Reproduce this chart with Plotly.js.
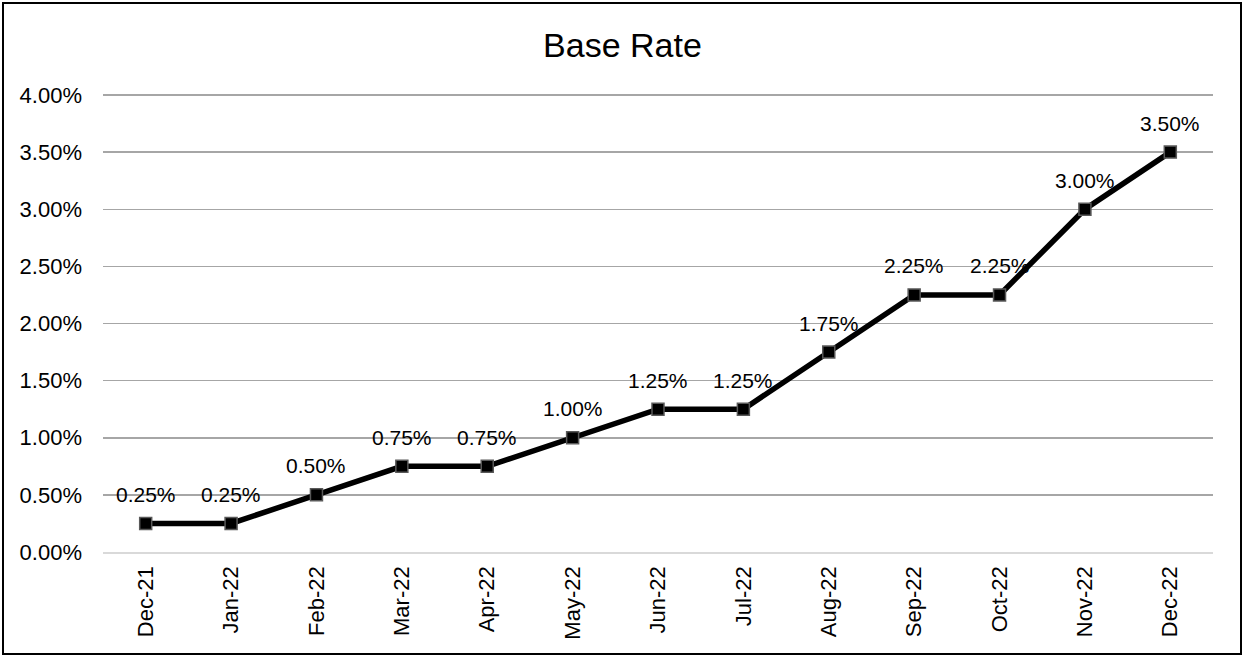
<!DOCTYPE html>
<html>
<head>
<meta charset="utf-8">
<script src="https://cdn.plot.ly/plotly-3.0.1.min.js"></script>
<style>
html,body{margin:0;padding:0;background:#fff;}
#chart{width:1245px;height:658px;position:absolute;left:0;top:0;}
#frame{position:absolute;left:2px;top:2px;width:1236px;height:649px;border:2px solid #000;pointer-events:none;}
</style>
</head>
<body>
<div id="chart"></div>
<div id="frame"></div>
<script>
const categories = ["Dec-21","Jan-22","Feb-22","Mar-22","Apr-22","May-22","Jun-22","Jul-22","Aug-22","Sep-22","Oct-22","Nov-22","Dec-22"];
const baseRate = [0.25,0.25,0.50,0.75,0.75,1.00,1.25,1.25,1.75,2.25,2.25,3.00,3.50];
const yTicks = [0,0.5,1,1.5,2,2.5,3,3.5,4];
const yTickLabels = ["0.00%","0.50%","1.00%","1.50%","2.00%","2.50%","3.00%","3.50%","4.00%"];

const font = "Liberation Sans, Arial, sans-serif";

const trace = {
  x: categories,
  y: baseRate,
  type: "scatter",
  mode: "lines+markers",
  line: {color: "#000000", width: 5.5},
  marker: {symbol: "square", size: 12, color: "#000000", line: {color: "#595959", width: 1.5}},
  hoverinfo: "none",
  cliponaxis: false
};

const annotations = categories.map((c, i) => ({
  x: c, y: baseRate[i], xref: "x", yref: "y",
  text: baseRate[i].toFixed(2) + "%",
  showarrow: false, yshift: 29, yanchor: "middle", xanchor: "center",
  font: {family: font, size: 21, color: "#000"}
}));

const layout = {
  width: 1245, height: 658,
  margin: {l: 103, r: 32, t: 91, b: 106, pad: 0},
  paper_bgcolor: "#fff", plot_bgcolor: "#fff",
  showlegend: false,
  title: {text: "Base Rate", font: {family: font, size: 34, color: "#000"}, x: 0.5, xanchor: "center", y: 0.932, yanchor: "middle", yref: "container"},
  xaxis: {
    type: "category", range: [-0.5, 12.5], tickangle: -90,
    tickfont: {family: font, size: 22, color: "#000"},
    showgrid: false, zeroline: false, showline: true, linecolor: "#d9d9d9", linewidth: 1.5,
    ticks: "", ticklabelstandoff: 4, fixedrange: true
  },
  yaxis: {
    range: [0, 4.035], tickvals: yTicks, ticktext: yTickLabels,
    tickfont: {family: font, size: 22, color: "#000"},
    showgrid: true, gridcolor: "#a6a6a6", gridwidth: 1.5, zeroline: false, showline: false,
    ticks: "", ticklabelstandoff: 20, fixedrange: true
  },
  annotations: annotations
};

Plotly.newPlot("chart", [trace], layout, {displayModeBar: false, staticPlot: true});
</script>
</body>
</html>
